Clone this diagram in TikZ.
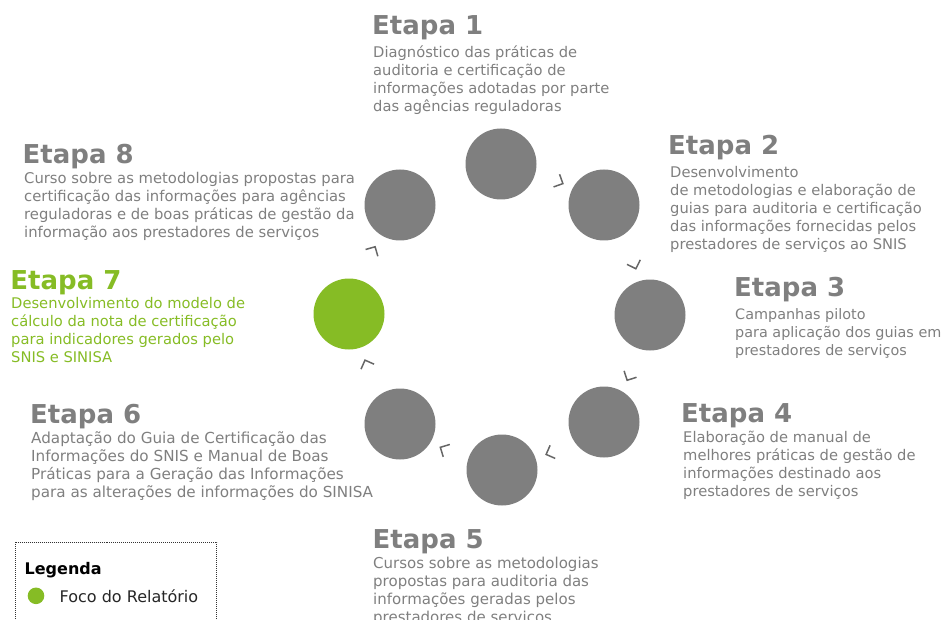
\documentclass[tikz,border=0pt]{standalone}
\usepackage{fontspec}
\setmainfont{DejaVu Sans}
\usetikzlibrary{arrows.meta,decorations.markings}
\definecolor{txtgray}{HTML}{7F7F7F}
\definecolor{circgray}{HTML}{7F7F7F}
\definecolor{focus}{HTML}{86BC25}
\definecolor{chevgray}{HTML}{666666}
\tikzset{
  stage/.style={circle, fill=circgray, minimum size=71pt, inner sep=0pt},
  focusstage/.style={stage, fill=focus},
  etitle/.style={anchor=base west, inner sep=0pt, font=\fontsize{26}{30}\selectfont\bfseries, text=txtgray},
  ebody/.style={anchor=north west, inner sep=0pt, align=left, font=\fontsize{14.7}{18}\selectfont, text=txtgray},
  chevpath/.style={postaction={decorate}, decoration={markings,
     mark=at position 0.76 with {\arrow[chevgray, line width=1.5pt]{Straight Barb[length=7pt, width=14pt]}}}},
}
\begin{document}
\begin{tikzpicture}[x=1pt, y=-1pt]
\useasboundingbox (0,0) rectangle (947,620);
\clip (0,0) rectangle (947,620);

% circles
\node[stage] (s1) at (501,164) {};
\node[stage] (s2) at (604,205) {};
\node[stage] (s3) at (650,315) {};
\node[stage] (s4) at (604,422) {};
\node[stage] (s5) at (502,470) {};
\node[stage] (s6) at (400,424) {};
\node[focusstage] (s7) at (349,314) {};
\node[stage] (s8) at (400,205) {};

% chevrons
\path[chevpath] (s1) to[bend left=6] (s2);
\path[chevpath] (s2) to[bend left=6] (s3);
\path[chevpath] (s3) to[bend left=6] (s4);
\path[chevpath] (s4) to[bend left=6] (s5);
\path[chevpath] (s5) to[bend left=6] (s6);
\path[chevpath] (s6) to[bend left=6] (s7);
\path[chevpath] (s7) to[bend left=6] (s8);

% texts
\node[etitle] (t1) at (372,35) {Etapa 1};
\node[ebody] (b1) at (373,44.9) {\strut Diagnóstico das práticas de\\auditoria e certificação de\\informações adotadas por parte\\das agências reguladoras};

\node[etitle] (t2) at (668,155) {Etapa 2};
\node[ebody] (b2) at (670,164.9) {\strut Desenvolvimento\\de metodologias e elaboração de\\guias para auditoria e certificação\\das informações fornecidas pelos\\prestadores de serviços ao SNIS};

\node[etitle] (t3) at (734,296.7) {Etapa 3};
\node[ebody, font=\fontsize{14.4}{18}\selectfont] (b3) at (735,306.9) {\strut Campanhas piloto\\para aplicação dos guias em\\prestadores de serviços};

\node[etitle] (t4) at (681,422.7) {Etapa 4};
\node[ebody] (b4) at (683,429.4) {\strut Elaboração de manual de\\melhores práticas de gestão de\\informações destinado aos\\prestadores de serviços};

\node[etitle] (t5) at (372.5,548) {Etapa 5};
\node[ebody, font=\fontsize{15}{18}\selectfont] (b5) at (373,555.4) {\strut Cursos sobre as metodologias\\propostas para auditoria das\\informações geradas pelos\\prestadores de serviços};

\node[etitle] (t6) at (30,423.3) {Etapa 6};
\node[ebody, font=\fontsize{15.2}{18}\selectfont] (b6) at (31,430.4) {\strut Adaptação do Guia de Certificação das\\Informações do SNIS e Manual de Boas\\Práticas para a Geração das Informações\\para as alterações de informações do SINISA};

\node[etitle, text=focus] (t7) at (10.2,289.3) {Etapa 7};
\node[ebody, text=focus] (b7) at (11,295.7) {\strut Desenvolvimento do modelo de\\cálculo da nota de certificação\\para indicadores gerados pelo\\SNIS e SINISA};

\node[etitle] (t8) at (22.5,163.3) {Etapa 8};
\node[ebody, font=\fontsize{14.8}{18}\selectfont] (b8) at (24,170.7) {\strut Curso sobre as metodologias propostas para\\certificação das informações para agências\\reguladoras e de boas práticas de gestão da\\informação aos prestadores de serviços};

% legend
\draw[black!80, line width=1pt, dash pattern=on 1pt off 1pt] (15.5,542) rectangle (216.5,640);
\node[anchor=base west, inner sep=0pt, font=\fontsize{16}{18}\selectfont\bfseries] (leg) at (24.5,574.3) {Legenda};
\node[circle, fill=focus, minimum size=16.6pt, inner sep=0pt] (legdot) at (36,595.8) {};
\node[anchor=base west, inner sep=0pt, font=\fontsize{16}{18}\selectfont, text=black!85] (legtxt) at (59.5,602.5) {Foco do Relatório};
\end{tikzpicture}
\end{document}
